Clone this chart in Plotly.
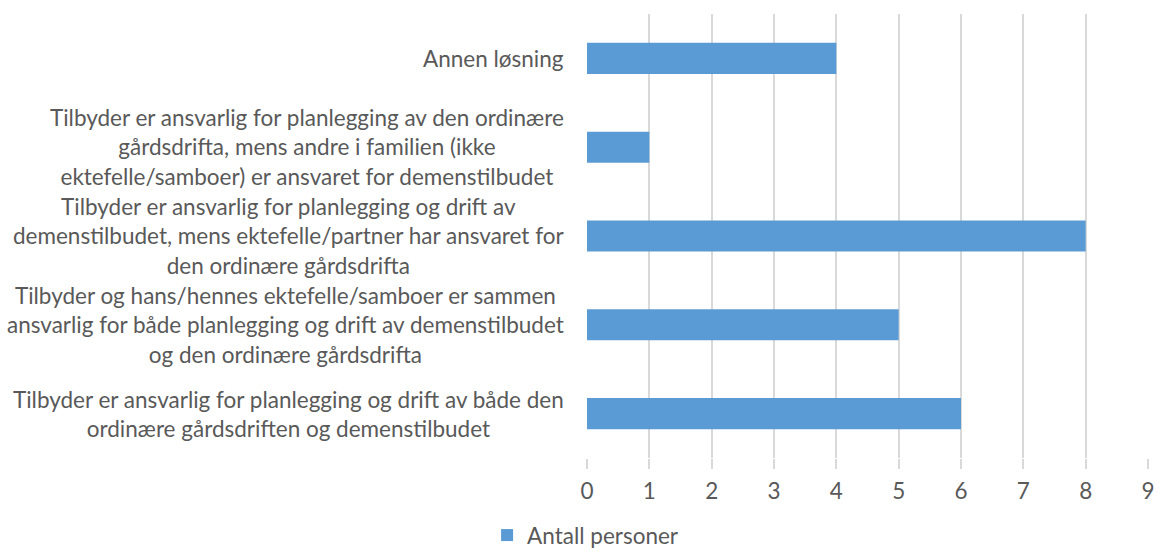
import plotly.graph_objects as go

categories = [
    "Tilbyder er ansvarlig for planlegging og drift av både den<br>ordinære gårdsdriften og demenstilbudet",
    "Tilbyder og hans/hennes ektefelle/samboer er sammen<br>ansvarlig for både planlegging og drift av demenstilbudet<br>og den ordinære gårdsdrifta",
    "Tilbyder er ansvarlig for planlegging og drift av<br>demenstilbudet, mens ektefelle/partner har ansvaret for<br>den ordinære gårdsdrifta",
    "Tilbyder er ansvarlig for planlegging av den ordinære<br>gårdsdrifta, mens andre i familien (ikke<br>ektefelle/samboer) er ansvaret for demenstilbudet",
    "Annen løsning",
]
values = [6, 5, 8, 1, 4]
series_name = "Antall personer"
x_ticks = [0, 1, 2, 3, 4, 5, 6, 7, 8, 9]

FONT = "Lato"
FS = 22.5
TXT = "#595959"
GRID = "#d9d9d9"

fig = go.Figure()
fig.add_trace(go.Bar(
    y=list(range(len(categories))),
    x=values,
    orientation="h",
    name=series_name,
    marker=dict(color="#5B9BD5", line=dict(width=0)),
    width=0.35,
    showlegend=True,
))

for i, c in enumerate(categories):
    fig.add_annotation(
        x=0, xref="paper", xanchor="right", xshift=-21,
        y=i, yref="y", yanchor="middle",
        text=c, showarrow=False, align="center",
        font=dict(family=FONT, size=FS, color=TXT),
    )

fig.update_layout(
    width=1157, height=552,
    margin=dict(l=587, r=9, t=14, b=94),
    paper_bgcolor="white", plot_bgcolor="white",
    font=dict(family=FONT, size=FS, color=TXT),
    legend=dict(
        orientation="h", xref="container", yref="container",
        x=0.421, xanchor="left", y=0.03, yanchor="middle",
        font=dict(family=FONT, size=FS, color=TXT),
        itemwidth=30,
    ),
    xaxis=dict(
        range=[0, 9], tickvals=x_ticks, showgrid=True, gridcolor=GRID, gridwidth=2,
        zeroline=False, showline=False, ticks="outside", ticklen=10, tickcolor=GRID,
        tickwidth=2, ticklabelstandoff=3, automargin=False,
        tickfont=dict(family=FONT, size=FS, color=TXT),
    ),
    yaxis=dict(
        range=[-0.5, len(categories) - 0.5], showticklabels=False, showgrid=False,
        zeroline=False, showline=False,
    ),
)

fig.write_html(
    "out.html",
    config={"displayModeBar": False},
    post_script="document.body.style.margin='0';document.body.style.overflow='hidden';",
)
